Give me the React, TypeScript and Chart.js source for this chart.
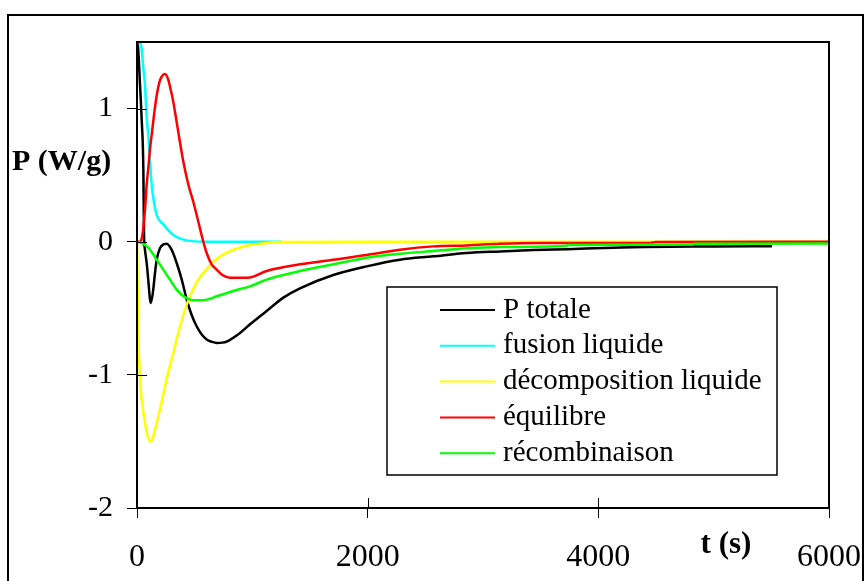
import React, { useEffect, useRef } from 'react';
import { Chart, registerables } from 'chart.js';

Chart.register(...registerables);

const FONT = '"Liberation Serif", "Times New Roman", serif';

const seriesNames = ['P totale', 'fusion liquide', 'décomposition liquide', 'équilibre', 'récombinaison'];
const seriesColors = ['#000000', '#00FFFF', '#FFFF00', '#FF0000', '#00FF00'];

const xTickValues = [0, 2000, 4000, 6000];
const yTickValues = [-2, -1, 0, 1];
const yAxisTitle = 'P (W/g)';
const xAxisTitle = 't (s)';

// P totale
const tTotale = [0, 10, 26, 40, 55, 61, 69, 84, 98, 113, 120, 141, 156, 171, 199, 230, 257, 300, 344, 388, 431, 474, 517, 560, 604, 650, 691, 740, 777, 893, 980, 1124, 1269, 1413, 1702, 1991, 2280, 2569, 2858, 3148, 3436, 3727, 4130, 4400, 5000, 5506];
const pTotale = [1.5, 1.45, 1.18, 0.93, 0.55, 0.05, -0.06, -0.16, -0.29, -0.435, -0.46, -0.36, -0.235, -0.135, -0.05, -0.02, -0.015, -0.06, -0.16, -0.285, -0.435, -0.55, -0.635, -0.695, -0.735, -0.752, -0.76, -0.758, -0.75, -0.685, -0.62, -0.52, -0.42, -0.35, -0.25, -0.185, -0.135, -0.11, -0.085, -0.073, -0.063, -0.056, -0.046, -0.04, -0.036, -0.034];

// fusion liquide
const tFusion = [0, 26, 40, 55, 69, 84, 98, 113, 127, 141, 171, 228, 315, 431, 600, 900, 1254];
const pFusion = [1.6, 1.5, 1.45, 1.3, 1.18, 0.93, 0.8, 0.6, 0.43, 0.33, 0.2, 0.13, 0.05, 0.01, 0.0, 0.0, 0.0];

// décomposition liquide
const tDecomp = [0, 3, 11, 26, 40, 55, 84, 113, 135, 156, 199, 257, 315, 373, 420, 460, 520, 575, 640, 691, 760, 835, 980, 1100, 1254, 2000, 3000, 4000, 5000, 6000];
const pDecomp = [0, -0.16, -0.66, -1.03, -1.18, -1.28, -1.43, -1.5, -1.48, -1.41, -1.26, -1.03, -0.835, -0.635, -0.5, -0.41, -0.3, -0.235, -0.17, -0.13, -0.09, -0.06, -0.025, -0.012, -0.003, 0, 0, 0, 0, 0];

// équilibre
const tEquil = [0, 26, 47, 70, 84, 100, 113, 127, 150, 171, 195, 214, 243, 270, 290, 315, 340, 370, 402, 445, 488, 532, 575, 604, 647, 691, 740, 806, 900, 980, 1124, 1413, 1702, 1991, 2280, 2569, 2858, 3148, 3500, 4450, 4500, 6000];
const pEquil = [0, 0, 0.05, 0.25, 0.43, 0.57, 0.7, 0.8, 0.97, 1.1, 1.2, 1.24, 1.26, 1.22, 1.15, 1.05, 0.92, 0.76, 0.6, 0.43, 0.3, 0.15, 0.0, -0.085, -0.17, -0.21, -0.25, -0.27, -0.27, -0.268, -0.22, -0.17, -0.135, -0.1, -0.06, -0.035, -0.028, -0.015, -0.01, -0.01, -0.002, 0];

// récombinaison
const tRecomb = [0, 40, 80, 113, 171, 228, 286, 344, 402, 460, 520, 560, 607, 691, 835, 980, 1124, 1269, 1413, 1702, 1991, 2280, 2569, 2858, 3148, 3727, 3740, 4820, 4830, 6000];
const pRecomb = [0, -0.01, -0.03, -0.06, -0.135, -0.21, -0.285, -0.36, -0.41, -0.435, -0.44, -0.44, -0.435, -0.41, -0.37, -0.335, -0.285, -0.25, -0.22, -0.17, -0.12, -0.09, -0.07, -0.05, -0.04, -0.03, -0.025, -0.02, -0.015, -0.013];

const seriesT = [tTotale, tFusion, tDecomp, tEquil, tRecomb];
const seriesP = [pTotale, pFusion, pDecomp, pEquil, pRecomb];

const decorPlugin = {
  id: 'decor',
  beforeDraw(chart: any) {
    const ctx = chart.ctx;
    ctx.save();
    ctx.fillStyle = '#ffffff';
    ctx.fillRect(0, 0, chart.width, chart.height);
    ctx.strokeStyle = '#000000';
    ctx.lineWidth = 2;
    ctx.strokeRect(8, 15, 855, 700);
    ctx.restore();
  },
  afterDatasetsDraw(chart: any) {
    const ctx = chart.ctx;
    const a = chart.chartArea;
    ctx.save();
    ctx.strokeStyle = '#000000';
    ctx.lineWidth = 2;
    ctx.strokeRect(a.left, a.top, a.right - a.left, a.bottom - a.top);
    ctx.lineWidth = 1;
    const xs = chart.scales.x;
    const ys = chart.scales.y;
    ctx.beginPath();
    xTickValues.forEach((v) => {
      const px = Math.round(xs.getPixelForValue(v)) + 0.5;
      ctx.moveTo(px, a.bottom);
      ctx.lineTo(px, a.bottom - 10);
    });
    yTickValues.forEach((v) => {
      const py = Math.round(ys.getPixelForValue(v)) + 0.5;
      ctx.moveTo(a.left, py);
      ctx.lineTo(a.left + 10, py);
    });
    ctx.stroke();
    ctx.restore();
  },
  afterDraw(chart: any) {
    const ctx = chart.ctx;
    const a = chart.chartArea;
    ctx.save();
    ctx.fillStyle = '#000000';
    ctx.font = `bold 30px ${FONT}`;
    ctx.textAlign = 'left';
    ctx.textBaseline = 'middle';
    ctx.fillText(yAxisTitle, a.left - 125, a.top + 120);
    ctx.font = `bold 31px ${FONT}`;
    ctx.textAlign = 'center';
    ctx.fillText(xAxisTitle, a.left + 589, a.bottom + 37);

    const lx = a.left + 250;
    const ly = a.top + 245;
    const lw = 390;
    const lh = 188;
    ctx.fillStyle = '#ffffff';
    ctx.fillRect(lx, ly, lw, lh);
    ctx.strokeStyle = '#000000';
    ctx.lineWidth = 1.5;
    ctx.strokeRect(lx, ly, lw, lh);
    ctx.font = `29px ${FONT}`;
    ctx.textAlign = 'left';
    ctx.textBaseline = 'middle';
    chart.data.datasets.forEach((ds: any, i: number) => {
      const yy = ly + 23 + i * 35.8;
      ctx.strokeStyle = ds.borderColor;
      ctx.lineWidth = 2;
      ctx.beginPath();
      ctx.moveTo(lx + 53, yy);
      ctx.lineTo(lx + 108, yy);
      ctx.stroke();
      ctx.fillStyle = '#000000';
      ctx.fillText(ds.label, lx + 116, yy);
    });
    ctx.restore();
  },
};

export default function App() {
  const canvasRef = useRef<HTMLCanvasElement | null>(null);

  useEffect(() => {
    if (!canvasRef.current) return;
    const datasets = seriesNames.map((name, i) => ({
      label: name,
      data: seriesT[i].map((t, j) => ({ x: t, y: seriesP[i][j] })),
      borderColor: seriesColors[i],
      backgroundColor: seriesColors[i],
      borderWidth: 2.5,
      pointRadius: 0,
      fill: false,
      cubicInterpolationMode: 'monotone' as const,
      order: seriesNames.length - i,
    }));

    const chart = new Chart(canvasRef.current, {
      type: 'line',
      data: { datasets },
      plugins: [decorPlugin],
      options: {
        responsive: false,
        devicePixelRatio: 1,
        animation: false,
        layout: { padding: { top: 42, right: 35, left: 0, bottom: 0 } },
        plugins: {
          legend: { display: false },
          tooltip: { enabled: false },
          title: { display: false },
        },
        scales: {
          x: {
            type: 'linear',
            min: 0,
            max: 6000,
            afterBuildTicks: (s: any) => {
              s.ticks = xTickValues.map((v) => ({ value: v }));
            },
            afterFit: (s: any) => {
              s.height = 73;
              s.paddingLeft = 0;
              s.paddingRight = 0;
            },
            ticks: {
              color: '#000000',
              font: { family: FONT, size: 32 },
              padding: 20,
              maxRotation: 0,
              autoSkip: false,
              callback: (v: any) => String(v),
            },
            grid: {
              drawOnChartArea: false,
              drawTicks: true,
              tickLength: 10,
              color: '#000000',
              lineWidth: 1,
            },
            border: { display: false },
          },
          y: {
            type: 'linear',
            min: -2,
            max: 1.5,
            afterBuildTicks: (s: any) => {
              s.ticks = yTickValues.map((v) => ({ value: v }));
            },
            afterFit: (s: any) => {
              s.width = 137;
              s.paddingTop = 0;
              s.paddingBottom = 0;
            },
            ticks: {
              color: '#000000',
              font: { family: FONT, size: 30 },
              padding: 14,
              autoSkip: false,
              callback: (v: any) => String(v),
            },
            grid: {
              drawOnChartArea: false,
              drawTicks: true,
              tickLength: 10,
              color: '#000000',
              lineWidth: 1,
            },
            border: { display: false },
          },
        },
      },
    });
    return () => chart.destroy();
  }, []);

  return (
    <div style={{ position: 'fixed', left: 0, top: 0, width: 864, height: 581, background: '#fff' }}>
      <canvas ref={canvasRef} width={864} height={581} style={{ display: 'block', width: 864, height: 581 }} />
    </div>
  );
}
